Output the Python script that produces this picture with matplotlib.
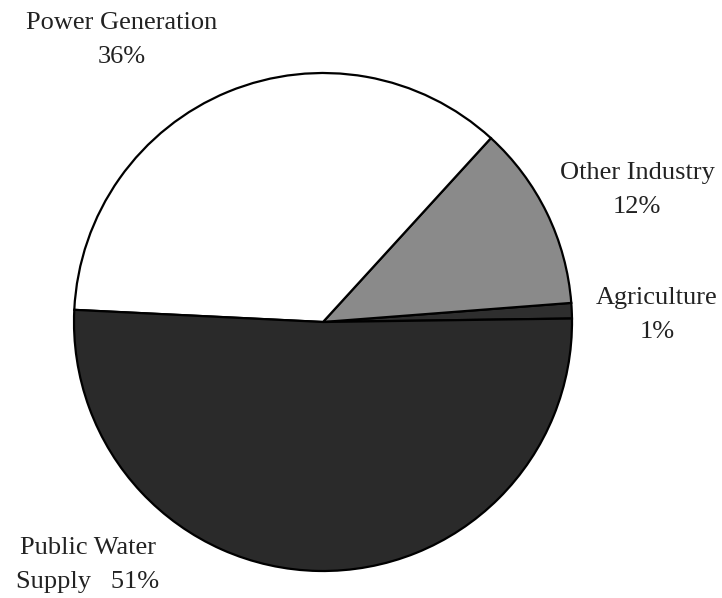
import matplotlib.pyplot as plt

# water use shares (%), counterclockwise from the right
sectors = ["Agriculture", "Other Industry", "Power Generation", "Public Water"]
shares = [1, 12, 36, 51]
colors = ["#2e2e2e", "#8a8a8a", "#ffffff", "#2a2a2a"]
label_texts = ["Agriculture\n1%", "Other Industry\n12%", "Power Generation\n36%", "Public Water\nSupply   51%"]

W, H = 722, 598
fig = plt.figure(figsize=(W / 100, H / 100), dpi=100)
ax = fig.add_axes([0, 0, 1, 1])

ax.pie(shares, colors=colors, startangle=0.8, counterclock=True,
       center=(323, H - 322), radius=249,
       wedgeprops=dict(edgecolor="black", linewidth=1.6))
ax.set_xlim(0, W)
ax.set_ylim(0, H)
ax.set_aspect("equal")
ax.axis("off")

# label block centres in pixel coords (from top-left)
label_pos = [(657, 315), (637, 190), (122, 40), (88, 565)]
for txt, (x, y) in zip(label_texts, label_pos):
    ax.text(x, H - y, txt, ha="center", va="center", fontsize=19,
            family="Liberation Serif", color="#222222", linespacing=1.66)

plt.savefig("out.png", dpi=100)
